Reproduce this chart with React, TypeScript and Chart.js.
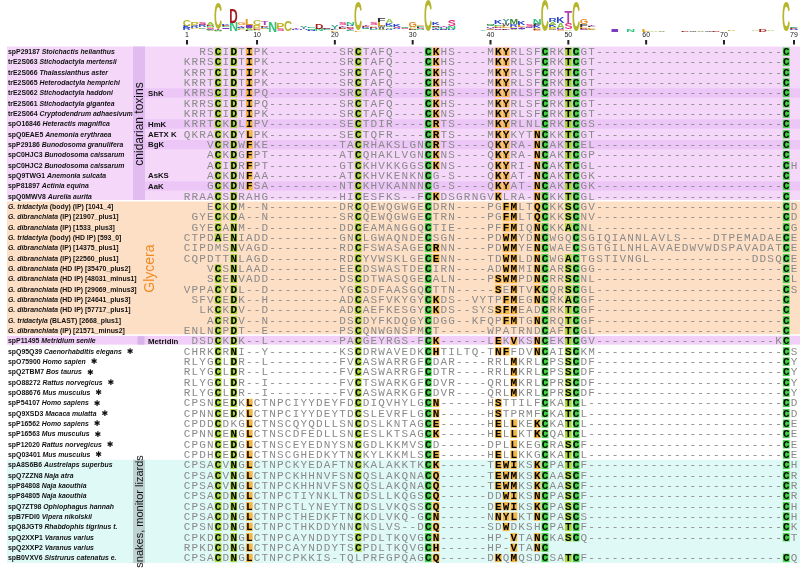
import React, { useEffect, useRef } from 'react';
import { Chart, registerables } from 'chart.js';

Chart.register(...registerables);

// ---------------- DATA ----------------
const NUM_COLS = 79;
const RULER_TICKS = [1, 10, 20, 30, 40, 50, 60, 70, 79];

const SEQUENCES: string[] = [
  '  RSCIDTIPK---------SRCTAFQ----CKHS----MKYRLSFCRKTCGT------------------------C',
  'KRRSCIDTIPK---------SRCTAFQ----CKHS----MKYRLSFCRKTCGT------------------------C',
  'KRRTCIDTIPK---------SRCTAFQ----CKHS----MKYRLSFCRKTCGT------------------------C',
  'KRRTCIDTIPK---------SRCTAFQ----CKHS----MKYRLSFCRKTCGT------------------------C',
  'KRRSCIDTIPQ---------SRCTAFQ----CKHS----MKYRLSFCRKTCGT------------------------C',
  'KRRSCIDTIPQ---------SRCTAFQ----CKHS----MKYRLSFCRKTCGT------------------------C',
  'KRRTCIDTIPK---------SRCTAFQ----CKNS----MKYRLSFCRKTCGT------------------------C',
  'KRRTCKDLIPV---------SECTDIR----CRTS----MKYRLNLCRKTCGS------------------------C',
  'QKRACKDYLPK---------SECTQFR----CRTS----MKYKYTNCKKTCGT------------------------C',
  '   VCRDWFKE---------TACRHAKSLGNCRTS----QKYRA-NCAKTCEL------------------------C',
  '   ACKDGFPT---------ATCQHAKLVGNCKNS----QKYRA-NCAKTCGP------------------------C',
  '   ACIDRFPT---------GTCKHVKKGGSCKNS----QKYRI-NCAKTCGL------------------------CH',
  '   ACKDNFAA---------ATCKHVKENKNCG-S----QKYAT-NCAKTCGK------------------------C',
  '   GCKDNFSA---------NTCKHVKANNNCG-S----QKYAT-NCAKTCGK------------------------C',
  'RRAACSDRAHG---------HICESFKS--FCKDSGRNGVKLRA-NCKKTCGL------------------------C',
  '   ECKDM--N---------DRCQEWQGWGECDRN----PGFMLTQCKKSCGV------------------------CD',
  ' GYECKDA--N---------SRCQEWQGWGECTRN----PGFMLTQCKKSCNV------------------------CD',
  ' GYECANM--D---------DDCEAMANGGQCTIE----PFFMIQNCKKACNL------------------------CG',
  'CTPDAENIADD---------GNCLGWAQNDECSGN----PDWMYDNCWGQCSGIQIANNLAVLS----DTPEMADAECE',
  'CIPDMSNVAGD---------RDCFSWASAGECRNN----PDWMYENCWAECSGTGILNHLAVAEDWVWDSPAVADATCE',
  'CQPDTTNLAGD---------RDCYVWSKLGECENN----TDWMLDNCWGACTGSTIVNGL-------------DDSQCE',
  '   VCSNLAAD---------EECDSWASTDECIRN----ADWMMINCARSCGG------------------------CE',
  '   SCENVADD---------DSCDTWASQGECALN----PSWMPDNCRRSCNL------------------------CL',
  'VPPACYDL--D---------YGCSDFAASGQCTTN-----SEMTVKCQRSCGL------------------------CS',
  ' SFVCEDK--H---------ADCASFVKYGYCKDS--VYTPFMEGNCRKACGF------------------------C',
  '  LKCKDV--D---------ADCAEFKESGYCKDS--SYSSFMEADCRKTCGF------------------------C',
  '   ACRDV--N---------DSCDYFKDQGYCDGG--KFQPFMTGNCRQTCGF------------------------C',
  'ENLNCPDT--E---------PSCQNWGNSPMCT------WPATRNDCAFTCGL------------------------C',
  ' DSDCKDK--L---------PACGEYRGS-FCK------LEKVKSNCEKTCGV-----------------------KC',
  'CHRKCRNI--Y---------KSCDRWAVEDKCHTILTQ-TNFFDVNCAISCKM------------------------CS',
  'RLYGCLDR--L---------FVCASWARRGFCDAR----RRLMKRLCPSSCDF------------------------CY',
  'RLYGCLDR--L---------FVCASWARRGFCDTR----RRLMKRLCPSSCDF------------------------CY',
  'RLYGCLDR--I---------FVCTSWARKGFCDVR----QRLMKRLCPRSCDF------------------------CY',
  'RLYGCLDR--I---------FVCASWARKGFCDVR----QRLMKRLCPRSCDF------------------------CY',
  'CPSNCEDKLCTNPCIYYDEYFDCDIQVHYLGCN------HSTTILFCKATCL-------------------------CD',
  'CPNNCEDKLCTNPCIYYDEYTDCSLEVRFLGCN------HSTPRMFCKATCL-------------------------CD',
  'CPDDCDKGLCTNSCQYQDLLSNCDSLKNTAGCE------HELLKEKCKATCL-------------------------CE',
  'CPNNCENGLCTNSCDFEDLLSNCESLKTSAGCK------HELLKTKCQATCL-------------------------CE',
  'CPGNCEDGLCTNSCEYEDNYSNCGDLKKMVSCD------DPLLKEGCRASCF-------------------------CE',
  'CPDHCEDGLCTNSCGHEDKYTNCKYLKKMLSCE------HELLKKGCKATCL-------------------------CE',
  'CPSACVNGLCTNPCKYEDAFTNCKALAKKTKCK------TEWIKSKCPATCF-------------------------CH',
  'CPSACVNGLCTNPCKHHNVFSNCQSLAKQNACQ------TEWMKSKCAASCF-------------------------CR',
  'CPSACVNGLCTNPCKHHNVFSNCQSLAKQNACQ------TEWMKSKCAASCF-------------------------CR',
  'CPSACDNGLCTNPCTIYNKLTNCDSLLKQGSCQ------DDWIKSNCPASCF-------------------------CR',
  'CPSACDNGLCTNPCTLYNEYTNCDSLVKQSSCQ------DEWIKSKCPASCF-------------------------CH',
  'CPSACDNGLCTNPCTHEDKFTNCKDLVKQ-GCN------NNYLKTNCPASCS-------------------------CH',
  'CPSNCDNGLCTNPCTHKDDYNNCNSLVS--DCQ------SDWDKSHCPATCF-------------------------CK',
  'CPKDCDNGLCTNPCAYNDDYTSCPDLTKQVGCN------HP-VTANCKASCQ-------------------------CT',
  'RPKDCDNGLCTNPCAYNDDYTSCPDLTKQVGCH------HP-VTANC',
  'CPSACDNGLCTNPCPKKIS-TQLPRFGPQAGCQ------DKQMQSDCSATCF-------------------------CQ',
];

const ACCESSIONS: string[] = [
  'spP29187', 'trE2S063', 'trE2S066', 'trE2S065', 'trE2S062', 'trE2S061', 'trE2S064', 'spO16846',
  'spQ0EAE5', 'spP29186', 'spC0HJC3', 'spC0HJC2', 'spQ9TWG1', 'spP81897', 'spQ0MWV8',
  '', '', '', '', '', '', '', '', '', '', '', '', '',
  'spP11495',
  'spQ95Q39', 'spO75900', 'spQ2TBM7', 'spO88272', 'spO88676', 'spP54107', 'spQ9XSD3', 'spP16562',
  'spP16563', 'spP12020', 'spQ03401',
  'spA8S6B6', 'spQ7ZZN8', 'spP84808', 'spP84805', 'spQ7ZT98', 'spB7FDI0', 'spQ8JGT9', 'spQ2XXP1',
  'spQ2XXP2', 'spB0VXV6',
];

const SPECIES: string[] = [
  'Stoichactis helianthus', 'Stichodactyla mertensii', 'Thalassianthus aster', 'Heterodactyla hemprichi',
  'Stichodactyla haddoni', 'Stichodactyla gigantea', 'Cryptodendrum adhaesivum', 'Heteractis magnifica',
  'Anemonia erythraea', 'Bunodosoma granulifera', 'Bunodosoma caissarum', 'Bunodosoma caissarum',
  'Anemonia sulcata', 'Actinia equina', 'Aurelia aurita',
  'G. tridactyla', 'G. dibranchiata', 'G. dibranchiata', 'G. tridactyla', 'G. dibranchiata',
  'G. dibranchiata', 'G. dibranchiata', 'G. dibranchiata', 'G. dibranchiata', 'G. dibranchiata',
  'G. dibranchiata', 'G. tridactyla', 'G. dibranchiata',
  'Metridium senile',
  'Caenorhabditis elegans', 'Homo sapien', 'Bos taurus', 'Rattus norvegicus', 'Mus musculus',
  'Homo sapiens', 'Macaca mulatta', 'Homo sapiens', 'Mus musculus', 'Rattus norvegicus', 'Mus musculus',
  'Austrelaps superbus', 'Naja atra', 'Naja kaouthia', 'Naja kaouthia', 'Ophiophagus hannah',
  'Vipera nikolskii', 'Rhabdophis tigrinus t.', 'Varanus varius', 'Varanus varius', 'Sistrurus catenatus e.',
];

const SUFFIXES: string[] = [
  '', '', '', '', '', '', '', '', '', '', '', '', '', '', '',
  ' (body) (IP) [1041_4]', ' (IP) [21907_plus1]', ' (IP) [1533_plus3]', ' (body) (HD IP) [593_0]',
  ' (IP) [14375_plus1]', ' (IP) [22560_plus1]', ' (HD IP) [35470_plus2]', ' (HD IP) [48031_minus1]',
  ' (HD IP) [29069_minus3]', ' (HD IP) [24641_plus3]', ' (HD IP) [57717_plus1]', ' (BLAST) [2668_plus1]',
  ' (IP) [21571_minus2]',
];

const STARRED_ROWS = [30, 31, 32, 33, 34, 35, 36, 37, 38, 39, 40];

const GROUP_NAMES = ['cnidarian toxins', 'Glycera', '', '', 'snakes, monitor lizards'];
const GROUP_FIRST = [1, 16, 29, 30, 41];
const GROUP_LAST = [15, 28, 29, 40, 50];

const SUBLABEL_ROWS = [5, 8, 9, 10, 13, 14, 29];
const SUBLABEL_TEXTS = ['ShK', 'HmK', 'AETX K', 'BgK', 'AsKS', 'AaK', 'Metridin'];
const MARKED_ROWS = [5, 8, 10, 14];

// column -> residues that are highlighted, and similarity level
const HL_COLUMNS = [5, 7, 9, 23, 32, 33, 41, 42, 43, 46, 47, 50, 51, 78];
const HL_RESIDUES = ['CA', 'DN', 'ILF', 'C', 'C', 'KRENQH', 'KESN', 'YFW', 'MILV', 'NKQ', 'C', 'TSA', 'C', 'C'];
const HL_LEVELS = ['y', 'y', 'o', 'y', 'g', 'o', 'o', 'o', 'o', 'o', 'g', 'y', 'g', 'g'];

// ---------------- STYLE ----------------
const W = 800;
const H = 569;
const HL_COLORS: Record<string, string> = { g: '#42d342', y: '#a9d63a', o: '#f5b642' };
const GROUP_BANDS = ['#f5d7fa', '#fddfc5', '#f1cff8', '', '#dff9f6'];
const GROUP_BARS = ['#e2bbf1', '', '', '', '#bed2d2'];
const GROUP_TEXT_COLORS = ['#111', '#f28a22', '#111', '#111', '#111'];
const GROUP_TEXT_X = [139.5, 150, 0, 0, 140];
const GROUP_TEXT_SIZE = [12, 14, 11, 11, 11];
const MARK_BAND = '#ebc6f6';
const SANS = '"Liberation Sans", Arial, sans-serif';
const MONO = '"Liberation Mono", "Courier New", monospace';
const LOGO_COLORS: Record<string, string> = {
  C: '#b6b62c', D: '#a51c1c', E: '#2aa872', K: '#2540d0', R: '#3552c4', H: '#6a4ad0',
  N: '#2ec27a', Q: '#27a065', S: '#e0307a', T: '#b040b0', G: '#e88a20', P: '#c8b420',
  A: '#8cc63a', V: '#6a8f2a', L: '#e0a020', I: '#7a3cc0', M: '#3a8a3a', F: '#303030',
  W: '#555555', Y: '#3a9a9a',
};

function padRow(s: string) {
  return (s + ' '.repeat(NUM_COLS)).slice(0, NUM_COLS);
}

function hlLevel(col: number, ch: string) {
  const i = HL_COLUMNS.indexOf(col);
  if (i < 0) return '';
  return HL_RESIDUES[i].indexOf(ch) >= 0 ? HL_LEVELS[i] : '';
}

function logoStacks(rows: string[]) {
  const out: { ch: string; bits: number }[][] = [];
  const maxBits = Math.log2(20);
  for (let c = 0; c < NUM_COLS; c++) {
    const counts: Record<string, number> = {};
    let n = 0;
    rows.forEach((r) => {
      const ch = r[c];
      if (ch !== ' ' && ch !== '-') {
        counts[ch] = (counts[ch] || 0) + 1;
        n++;
      }
    });
    if (!n) { out.push([]); continue; }
    let ent = 0;
    Object.keys(counts).forEach((k) => {
      const p = counts[k] / n;
      ent -= p * Math.log2(p);
    });
    const ic = (maxBits - ent) * (n / rows.length);
    const stack = Object.keys(counts).map((k) => ({ ch: k, bits: (counts[k] / n) * ic }));
    stack.sort((a, b) => a.bits - b.bits);
    out.push(stack);
  }
  return out;
}

function drawStretched(ctx: CanvasRenderingContext2D, ch: string, xl: number, yb: number, w: number, h: number, color: string) {
  if (h <= 0.05) return;
  ctx.save();
  ctx.font = 'bold 100px ' + SANS;
  ctx.textAlign = 'left';
  ctx.textBaseline = 'alphabetic';
  const m = ctx.measureText(ch);
  const gw = m.actualBoundingBoxLeft + m.actualBoundingBoxRight;
  const gh = m.actualBoundingBoxAscent + m.actualBoundingBoxDescent;
  if (gw > 0 && gh > 0) {
    ctx.translate(xl, yb);
    ctx.scale(w / gw, h / gh);
    ctx.fillStyle = color;
    ctx.fillText(ch, m.actualBoundingBoxLeft, -m.actualBoundingBoxDescent);
  }
  ctx.restore();
}

const alignmentPlugin = {
  id: 'alignment',
  afterDraw(chart: any) {
    const { ctx } = chart;
    const xs = chart.scales.x;
    const ys = chart.scales.y;
    const colW = Math.abs(xs.getPixelForValue(2) - xs.getPixelForValue(1));
    const rowH = Math.abs(ys.getPixelForValue(2) - ys.getPixelForValue(1));
    const yTop = (r: number) => ys.getPixelForValue(r - 0.5);
    const yBot = (r: number) => ys.getPixelForValue(r + 0.5);
    const yMid = (r: number) => ys.getPixelForValue(r);
    const nRows = SEQUENCES.length;
    ctx.save();

    // group bands
    GROUP_NAMES.forEach((_, g) => {
      const t = yTop(GROUP_FIRST[g]);
      const b = yBot(GROUP_LAST[g]) - (GROUP_LAST[g] < nRows ? 1.5 : 0);
      if (GROUP_BANDS[g]) {
        ctx.fillStyle = GROUP_BANDS[g];
        ctx.fillRect(7, t, W - 7, b - t);
      }
    });
    // marked rows
    MARKED_ROWS.forEach((r) => {
      ctx.fillStyle = MARK_BAND;
      ctx.fillRect(145, yTop(r) + 0.5, W - 145, rowH - 1);
    });
    // vertical bars
    GROUP_NAMES.forEach((_, g) => {
      if (!GROUP_BARS[g]) return;
      const t = yTop(GROUP_FIRST[g]);
      const b = yBot(GROUP_LAST[g]) - (GROUP_LAST[g] < nRows ? 1.5 : 0);
      ctx.fillStyle = GROUP_BARS[g];
      ctx.fillRect(133, t, 12, b - t);
    });
    // metridin small marker
    const metRow = SUBLABEL_ROWS[SUBLABEL_TEXTS.indexOf('Metridin')];
    ctx.fillStyle = '#d9b2ea';
    ctx.fillRect(137.5, yTop(metRow) + 0.5, 7, rowH - 2);

    // group names
    GROUP_NAMES.forEach((name, g) => {
      if (!name) return;
      const cy = (yTop(GROUP_FIRST[g]) + yBot(GROUP_LAST[g])) / 2;
      ctx.save();
      ctx.translate(GROUP_TEXT_X[g], cy);
      ctx.rotate(-Math.PI / 2);
      ctx.font = GROUP_TEXT_SIZE[g] + 'px ' + SANS;
      ctx.fillStyle = GROUP_TEXT_COLORS[g];
      ctx.textAlign = 'center';
      ctx.textBaseline = 'middle';
      ctx.fillText(name, 0, 0);
      ctx.restore();
    });

    // sublabels
    SUBLABEL_ROWS.forEach((r, i) => {
      ctx.font = 'bold 7.8px ' + SANS;
      ctx.fillStyle = '#111';
      ctx.textAlign = 'left';
      ctx.textBaseline = 'middle';
      ctx.fillText(SUBLABEL_TEXTS[i], 148, yMid(r) + 0.5);
    });

    // row labels
    const boldF = 'bold 6.9px ' + SANS;
    const itF = 'italic bold 6.9px ' + SANS;
    for (let i = 0; i < nRows; i++) {
      const r = i + 1;
      const yc = yMid(r) + 0.5;
      const clip = r <= 15 || r >= 41;
      ctx.save();
      if (clip) {
        ctx.beginPath();
        ctx.rect(0, yTop(r), 132.5, rowH);
        ctx.clip();
      }
      ctx.fillStyle = '#111';
      ctx.textAlign = 'left';
      ctx.textBaseline = 'middle';
      let xp = 8;
      if (ACCESSIONS[i]) {
        ctx.font = boldF;
        ctx.fillText(ACCESSIONS[i], xp, yc);
        xp += ctx.measureText(ACCESSIONS[i] + ' ').width;
      }
      ctx.font = itF;
      ctx.fillText(SPECIES[i], xp, yc);
      xp += ctx.measureText(SPECIES[i]).width;
      if (SUFFIXES[i]) {
        ctx.font = boldF;
        ctx.fillText(SUFFIXES[i], xp, yc);
        xp += ctx.measureText(SUFFIXES[i]).width;
      }
      if (STARRED_ROWS.indexOf(r) >= 0) {
        ctx.font = 'bold 8px "DejaVu Sans", sans-serif';
        ctx.fillText('\u2731', xp + 5, yc);
      }
      ctx.restore();
    }

    // residues
    const meta = chart.getDatasetMeta(0);
    const raw = chart.data.datasets[0].data;
    meta.data.forEach((el: any, k: number) => {
      const p = raw[k];
      const lvl = hlLevel(p.x, p.ch);
      if (lvl) {
        ctx.fillStyle = HL_COLORS[lvl];
        ctx.fillRect(el.x - colW / 2 + 0.5, el.y - rowH / 2 + 1, colW - 1, rowH - 2);
      }
    });
    ctx.textAlign = 'center';
    ctx.textBaseline = 'middle';
    meta.data.forEach((el: any, k: number) => {
      const p = raw[k];
      const lvl = hlLevel(p.x, p.ch);
      ctx.font = (lvl ? 'bold ' : '') + '11px ' + MONO;
      ctx.fillStyle = lvl ? '#000' : '#8a8a8a';
      ctx.fillText(p.ch, el.x, el.y + 0.5);
    });

    // ruler
    ctx.font = '7px ' + SANS;
    ctx.fillStyle = '#222';
    ctx.textAlign = 'center';
    ctx.textBaseline = 'middle';
    RULER_TICKS.forEach((t) => {
      const xp = xs.getPixelForValue(t);
      ctx.fillText(String(t), xp, 35);
      ctx.fillRect(xp - 1, 40, 2, 4.5);
    });

    // sequence logo
    const stacks = logoStacks(SEQUENCES.map(padRow));
    const pxPerBit = 31 / Math.log2(20);
    stacks.forEach((stack, c) => {
      const xc = xs.getPixelForValue(c + 1);
      let yb = 31.5;
      for (let j = 0; j < stack.length; j++) {
        const h = stack[j].bits * pxPerBit;
        drawStretched(ctx, stack[j].ch, xc - colW / 2 + 0.2, yb, colW - 0.4, h, LOGO_COLORS[stack[j].ch] || '#666');
        yb -= h;
      }
    });

    ctx.restore();
  },
};

export default function App() {
  const ref = useRef<HTMLCanvasElement | null>(null);
  useEffect(() => {
    const rows = SEQUENCES.map(padRow);
    const points: { x: number; y: number; ch: string }[] = [];
    rows.forEach((s, i) => {
      for (let c = 0; c < NUM_COLS; c++) {
        const ch = s[c];
        if (ch !== ' ') points.push({ x: c + 1, y: i + 1, ch });
      }
    });
    const chart = new Chart(ref.current as HTMLCanvasElement, {
      type: 'scatter',
      data: { datasets: [{ data: points as any, pointRadius: 0, pointHoverRadius: 0 }] },
      options: {
        animation: false,
        responsive: false,
        devicePixelRatio: 1,
        events: [],
        layout: { padding: { left: 183.1, top: 46.5, right: 2.1, bottom: 5.9 } },
        scales: {
          x: { type: 'linear', min: 0.5, max: NUM_COLS + 0.5, display: false },
          y: { type: 'linear', min: 0.5, max: SEQUENCES.length + 0.5, reverse: true, display: false },
        },
        plugins: { legend: { display: false }, tooltip: { enabled: false } },
      },
      plugins: [alignmentPlugin],
    });
    return () => chart.destroy();
  }, []);
  return (
    <div style={{ position: 'fixed', left: 0, top: 0, width: W, height: H, background: '#fff' }}>
      <canvas ref={ref} width={W} height={H} style={{ width: W, height: H, display: 'block' }} />
    </div>
  );
}
